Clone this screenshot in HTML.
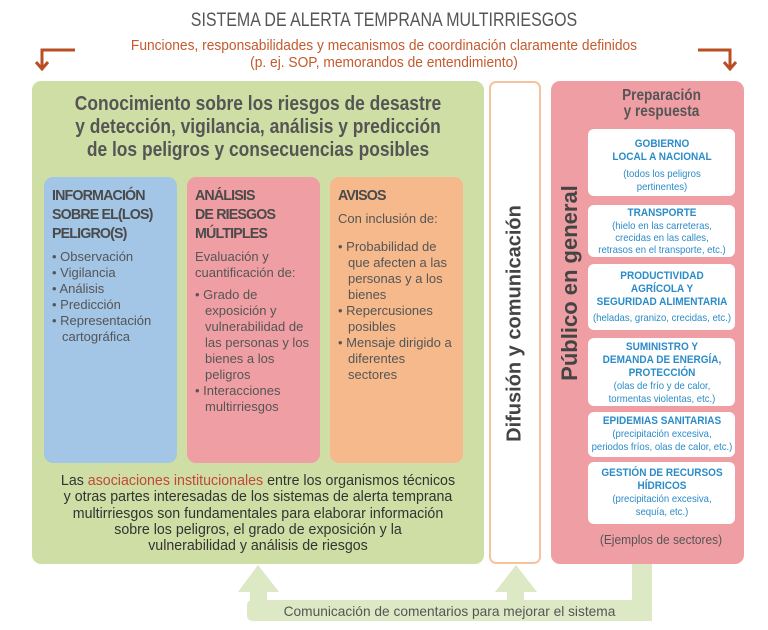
<!DOCTYPE html>
<html><head><meta charset="utf-8"><style>
*{margin:0;padding:0;box-sizing:border-box}
body{width:768px;height:630px;background:#fff;position:relative;overflow:hidden;font-family:"Liberation Sans",sans-serif;color:#4a4a4a}
.a{position:absolute}
.c{text-align:center}
.n{transform:scaleX(0.84);transform-origin:center}
.card{position:absolute;left:588px;width:147px;background:#fff;border-radius:6px;text-align:center;color:#2a8bc9;font-size:10.5px;line-height:12.5px;padding-top:5px;overflow:hidden}
.card>div{width:160px;margin-left:-6.5px;transform:scaleX(0.91);transform-origin:center}
.card b{display:block;font-size:11px;line-height:13px}
.sub{position:absolute;top:177px;width:133px;height:286px;border-radius:9px;padding:9px 8px;font-size:13px;line-height:16px;color:#555}
.sub h3{font-size:15px;line-height:19px;color:#4a4a4a;margin-bottom:6px;letter-spacing:-0.9px;transform:scaleX(0.95);transform-origin:left}
.sub ul{list-style:none}
.sub li{padding-left:10px;text-indent:-10px}
.sub li:before{content:"• "}
</style></head><body>
<div class="a c n" style="left:0;top:10px;width:768px;font-size:19px;color:#555">SISTEMA DE ALERTA TEMPRANA MULTIRRIESGOS</div>
<div class="a c" style="left:0;top:38px;width:768px;font-size:14.5px;line-height:17px;color:#c45a2e;transform:scaleX(0.95)">Funciones, responsabilidades y mecanismos de coordinación claramente definidos<br>(p. ej. SOP, memorandos de entendimiento)</div>
<svg class="a" style="left:0;top:0" width="768" height="630">
<g stroke="#b94e22" stroke-width="3" fill="none">
<path d="M75 50 H42 V68"/><path d="M36 62 L42 69 L48 62"/>
<path d="M698 50 H730 V68"/><path d="M724 62 L730 69 L736 62"/>
</g>
<g fill="#dde8c4">
<rect x="632" y="563" width="20" height="58"/>
<rect x="247" y="600" width="405" height="21" rx="5"/>
<rect x="250" y="590" width="17" height="20"/>
<polygon points="238,592 258,565 279,592"/>
<rect x="507" y="590" width="17" height="20"/>
<polygon points="495,592 516,565 537,592"/>
</g>
<g stroke="#d6e4b8" stroke-width="3" fill="none">
<path d="M504 112 H520 M513 105 L520 112 L513 119"/>
<path d="M504 535 H520 M513 528 L520 535 L513 542"/>
</g>
</svg>
<div class="a c" style="left:247px;top:603px;width:405px;font-size:14px;color:#555;transform:scaleX(0.98)">Comunicación de comentarios para mejorar el sistema</div>
<div class="a" style="left:32px;top:81px;width:452px;height:483px;background:#cfdea4;border-radius:9px"></div>
<div class="a c" style="left:32px;top:93px;width:452px;font-size:20px;line-height:23px;font-weight:bold;color:#555;transform:scaleX(0.87)">Conocimiento sobre los riesgos de desastre<br>y detección, vigilancia, análisis y predicción<br>de los peligros y consecuencias posibles</div>
<div class="sub" style="left:44px;background:#a3c5e6"><h3>INFORMACIÓN<br>SOBRE EL(LOS)<br>PELIGRO(S)</h3><ul><li>Observación</li><li>Vigilancia</li><li>Análisis</li><li>Predicción</li><li>Representación cartográfica</li></ul></div>
<div class="sub" style="left:187px;background:#ef9fa4"><h3>ANÁLISIS<br>DE RIESGOS<br>MÚLTIPLES</h3><p style="margin-bottom:6px">Evaluación y cuantificación de:</p><ul><li>Grado de exposición y vulnerabilidad de las personas y los bienes a los peligros</li><li>Interacciones multirriesgos</li></ul></div>
<div class="sub" style="left:330px;background:#f5b98c"><h3>AVISOS</h3><p style="margin-bottom:12px">Con inclusión de:</p><ul><li>Probabilidad de que afecten a las personas y a los bienes</li><li>Repercusiones posibles</li><li>Mensaje dirigido a diferentes sectores</li></ul></div>
<div class="a c" style="left:12px;top:473px;width:492px;font-size:14.5px;line-height:16.3px;color:#333;transform:scaleX(0.98)">Las <span style="color:#c0483a">asociaciones institucionales</span> entre los organismos técnicos<br>y otras partes interesadas de los sistemas de alerta temprana<br>multirriesgos son fundamentales para elaborar información<br>sobre los peligros, el grado de exposición y la<br>vulnerabilidad y análisis de riesgos</div>
<div class="a" style="left:489px;top:81px;width:52px;height:483px;border:2px solid #f7c39d;border-radius:7px;background:#fff"></div>
<div class="a c" style="left:315px;top:312px;width:400px;font-size:20px;font-weight:bold;color:#444;transform:rotate(-90deg)">Difusión y comunicación</div>
<div class="a" style="left:551px;top:81px;width:193px;height:483px;background:#ef9fa4;border-radius:9px"></div>
<div class="a c" style="left:578px;top:88px;width:167px;font-size:15.5px;line-height:16px;font-weight:bold;color:#555;transform:scaleX(0.88)">Preparación<br>y respuesta</div>
<div class="a c" style="left:420px;top:270px;width:300px;font-size:22px;font-weight:bold;color:#444;transform:rotate(-90deg)">Público en general</div>
<div class="card" style="top:129px;height:67px;padding-top:9px"><div><b>GOBIERNO<br>LOCAL A NACIONAL</b><div style="margin-top:4px">(todos los peligros<br>pertinentes)</div></div></div>
<div class="card" style="top:205px;height:52px;padding-top:2px;line-height:12px"><div><b>TRANSPORTE</b>(hielo en las carreteras,<br>crecidas en las calles,<br>retrasos en el transporte, etc.)</div></div>
<div class="card" style="top:264px;height:66px;padding-top:6px"><div><b>PRODUCTIVIDAD<br>AGRÍCOLA Y<br>SEGURIDAD ALIMENTARIA</b><div style="margin-top:3px">(heladas, granizo, crecidas, etc.)</div></div></div>
<div class="card" style="top:338px;height:68px;padding-top:3px"><div><b>SUMINISTRO Y<br>DEMANDA DE ENERGÍA,<br>PROTECCIÓN</b>(olas de frío y de calor,<br>tormentas violentas, etc.)</div></div>
<div class="card" style="top:412px;height:45px;padding-top:3px"><div><b>EPIDEMIAS SANITARIAS</b>(precipitación excesiva,<br>periodos fríos, olas de calor, etc.)</div></div>
<div class="card" style="top:462px;height:62px;padding-top:5px"><div><b>GESTIÓN DE RECURSOS<br>HÍDRICOS</b>(precipitación excesiva,<br>sequía, etc.)</div></div>
<div class="a c" style="left:566px;top:532px;width:190px;font-size:13px;color:#555;transform:scaleX(0.92)">(Ejemplos de sectores)</div>
</body></html>
